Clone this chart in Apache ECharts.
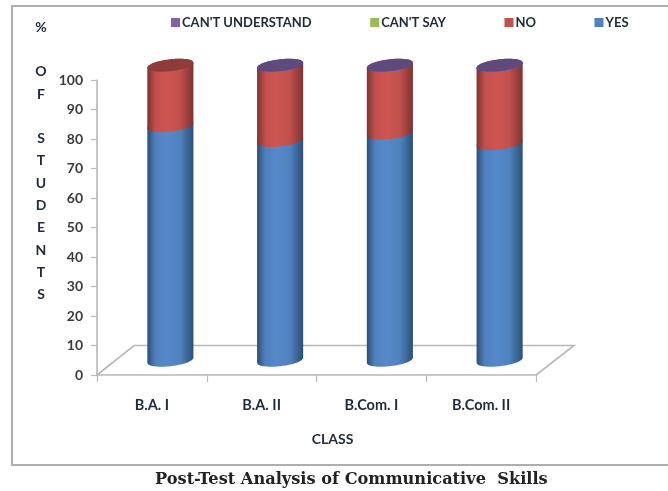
<!DOCTYPE html>
<html><head><meta charset="utf-8">
<style>html,body{margin:0;padding:0;background:#fff}#c{width:668px;height:491px}</style>
<script src="https://cdn.jsdelivr.net/npm/echarts@6/dist/echarts.min.js"></script>
</head><body><div id="c"></div>
<script>
const categories = ['B.A. I', 'B.A. II', 'B.Com. I', 'B.Com. II'];
const yesValues = [79.5, 74.5, 77, 73.5];
const noValues = [20.5, 25.3, 22.8, 26.3];
const cantSayValues = [0, 0, 0, 0];
const cantUnderstandValues = [0, 0.2, 0.2, 0.2];
const yTicks = [0, 10, 20, 30, 40, 50, 60, 70, 80, 90, 100];
const yTitle = ['%', '', 'O', 'F', '', 'S', 'T', 'U', 'D', 'E', 'N', 'T', 'S'];

const FONT = 'Lato';
const DEPTH_X = 37, FLOOR_VALUE = 10;
const seriesDefs = [
  {name: 'YES', values: yesValues, base: '#4f81bd', edge: '#2b4f78', mid: '#5689cb', top: '#3d6694'},
  {name: 'NO', values: noValues, base: '#c0504d', edge: '#7f3230', mid: '#cf5552', top: '#8f3b39'},
  {name: "CAN'T SAY", values: cantSayValues, base: '#9bbb59', edge: '#6a8239', mid: '#a5c75f', top: '#76903f'},
  {name: "CAN'T UNDERSTAND", values: cantUnderstandValues, base: '#8064a2', edge: '#54406e', mid: '#8a6cae', top: '#604a7b'}
];
// stacked [category, start, end, isTopmost]
const running = categories.map(() => 0);
const stacked = seriesDefs.map((d, si) => d.values.map((v, i) => {
  const start = running[i]; running[i] += v;
  const above = seriesDefs.slice(si + 1).some(o => o.values[i] > 0);
  return [i, start, running[i], above ? 0 : 1];
}));

function ellipsePts(cx, cy, rx, ry, shear, a0, a1, n) {
  const pts = [];
  for (let k = 0; k <= n; k++) {
    const t = a0 + (a1 - a0) * k / n;
    const dx = rx * Math.cos(t);
    pts.push([cx + dx, cy + ry * Math.sin(t) - shear * dx]);
  }
  return pts;
}
function cylinderItem(def) {
  return function (params, api) {
    const v0 = api.value(1), v1 = api.value(2);
    if (!(v1 > v0)) return {type: 'group', children: []};
    const band = api.size([1, 0])[0];
    const unit = api.size([0, FLOOR_VALUE])[1];
    const sx = DEPTH_X / 2, sy = -unit / 2;
    const rx = band * 0.21, ry = 6, shear = 0.11;
    const a = api.coord([api.value(0), v0]);
    const b = api.coord([api.value(0), v1]);
    const cx = a[0] + sx, y0 = a[1] + sy, y1 = b[1] + sy;
    const body = ellipsePts(cx, y1, rx, ry, shear, Math.PI, 2 * Math.PI, 24)
      .concat(ellipsePts(cx, y0, rx, ry, shear, 0, Math.PI, 24));
    const fill = {type: 'linear', x: 0, y: 0, x2: 1, y2: 0, colorStops: [
      {offset: 0, color: def.edge}, {offset: 0.18, color: def.base},
      {offset: 0.42, color: def.mid}, {offset: 0.72, color: def.base},
      {offset: 1, color: def.edge}]};
    const children = [{type: 'polygon', shape: {points: body}, style: {fill: fill}}];
    if (api.value(3) === 1) {
      children.push({type: 'polygon',
        shape: {points: ellipsePts(cx, y1, rx, ry, shear, 0, 2 * Math.PI, 48)},
        style: {fill: def.top}});
    }
    return {type: 'group', children: children};
  };
}
function floorItem(params, api) {
  const band = api.size([1, 0])[0];
  const p0 = api.coord([0, 0]), p1 = api.coord([categories.length - 1, 0]), p2 = api.coord([0, FLOOR_VALUE]);
  const L = p0[0] - band / 2, R = p1[0] + band / 2, Y = p0[1], T = p2[1];
  return {type: 'polyline', silent: true,
    shape: {points: [[L, Y], [L + DEPTH_X, T], [R + DEPTH_X + 1, T], [R, Y]]},
    style: {fill: null, stroke: '#b8b8b8', lineWidth: 1.6}};
}

const series = [{type: 'custom', name: 'floor', coordinateSystem: 'cartesian2d', silent: true,
  data: [[0, 0]], encode: {x: 0, y: 1}, renderItem: floorItem, z: 1}];
seriesDefs.forEach((d, si) => series.push({
  type: 'custom', name: d.name, coordinateSystem: 'cartesian2d', z: 2 + si,
  itemStyle: {color: d.base}, encode: {x: 0, y: [1, 2]},
  data: stacked[si], renderItem: cylinderItem(d)
}));

const chart = echarts.init(document.getElementById('c'), null, {renderer: 'canvas'});
chart.setOption({
  animation: false,
  backgroundColor: '#fff',
  grid: {left: 97, top: 80, width: 439, height: 295},
  legend: {
    data: ["CAN'T UNDERSTAND", "CAN'T SAY", 'NO', 'YES'],
    left: 166, top: 11, itemWidth: 9, itemHeight: 9, itemGap: 58.5, icon: 'rect',
    textStyle: {fontFamily: FONT, fontWeight: 'bold', fontSize: 13, color: '#1f2a38', padding: [0, 0, 0, -3]}
  },
  title: [
    {text: 'Post-Test Analysis of Communicative  Skills', left: 155, top: 472, padding: 0,
     textStyle: {fontFamily: 'DejaVu Serif', fontWeight: 'bold', fontSize: 16.2, color: '#222'}},
    {text: yTitle.join('\n'), left: 41, top: 16, padding: 0, textAlign: 'center',
     textStyle: {fontFamily: FONT, fontWeight: 'bold', fontSize: 14, lineHeight: 22.3, color: '#1f2a38', align: 'center'}}
  ],
  xAxis: {
    type: 'category', data: categories, boundaryGap: true,
    name: 'CLASS', nameLocation: 'middle', nameGap: 57,
    nameTextStyle: {fontFamily: FONT, fontWeight: 'bold', fontSize: 14, color: '#1f2a38', padding: [0, 0, 0, 32]},
    axisLine: {lineStyle: {color: '#b8b8b8', width: 1.6}},
    axisTick: {show: true, length: 7, alignWithLabel: false, lineStyle: {color: '#b8b8b8', width: 1.2}},
    axisLabel: {fontFamily: FONT, fontWeight: 'bold', fontSize: 14.5, color: '#1f2a38', margin: 23, interval: 0},
    splitLine: {show: false}
  },
  yAxis: {
    type: 'value', min: yTicks[0], max: yTicks[yTicks.length - 1], interval: yTicks[1] - yTicks[0],
    axisLine: {show: true, lineStyle: {color: '#b8b8b8', width: 1.6}},
    axisTick: {show: true, length: 6, lineStyle: {color: '#b8b8b8', width: 1.2}},
    axisLabel: {fontFamily: FONT, fontWeight: 'bold', fontSize: 14, color: '#3a3a3a', margin: 14},
    splitLine: {show: false}
  },
  graphic: [{type: 'rect', silent: true, z: -1,
    shape: {x: 12, y: 6, width: 680, height: 459},
    style: {fill: null, stroke: '#aeaeae', lineWidth: 2}}],
  series: series
});
</script></body></html>
